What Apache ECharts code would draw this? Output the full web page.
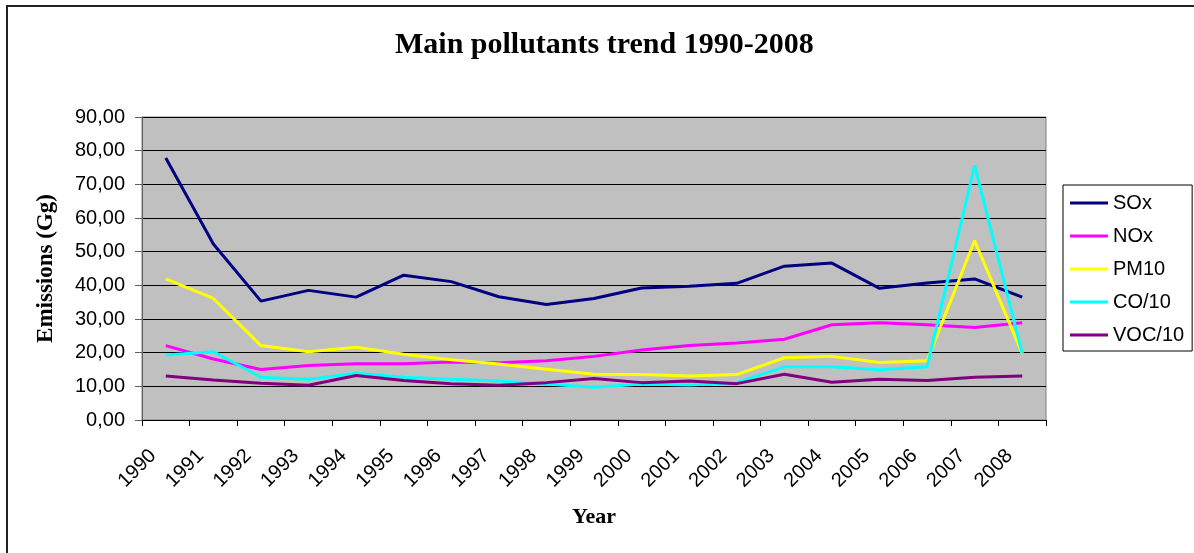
<!DOCTYPE html>
<html>
<head>
<meta charset="utf-8">
<script src="https://cdn.jsdelivr.net/npm/echarts@6/dist/echarts.min.js"></script>
<style>
  html, body { margin: 0; padding: 0; background: #fff; }
  #main { width: 1194px; height: 553px; }
</style>
</head>
<body>
<div id="main"></div>
<script>
var years = ["1990", "1991", "1992", "1993", "1994", "1995", "1996", "1997", "1998", "1999",
  "2000", "2001", "2002", "2003", "2004", "2005", "2006", "2007", "2008"];
var sox = [77.8, 52.3, 35.3, 38.5, 36.5, 43.0, 41.1, 36.6, 34.3, 36.1, 39.2, 39.7, 40.6, 45.7, 46.6, 39.1, 40.7, 41.9, 36.5];
var nox = [22.1, 18.1, 15.0, 16.2, 16.7, 16.7, 17.2, 17.0, 17.6, 18.9, 20.8, 22.1, 22.9, 24.0, 28.3, 28.9, 28.3, 27.5, 28.9];
var pm10 = [41.9, 36.1, 22.1, 20.3, 21.6, 19.5, 17.9, 16.6, 15.1, 13.6, 13.5, 13.1, 13.5, 18.5, 18.9, 17.1, 17.6, 53.3, 19.8];
var co10 = [19.3, 20.3, 12.7, 12.1, 13.9, 12.7, 12.1, 11.6, 10.7, 9.7, 10.7, 10.4, 11.1, 15.8, 15.8, 14.9, 15.8, 75.6, 19.8];
var voc10 = [13.1, 11.9, 10.9, 10.3, 13.2, 11.7, 10.8, 10.3, 11.1, 12.3, 11.1, 11.6, 10.8, 13.6, 11.2, 12.1, 11.7, 12.7, 13.1];

var seriesNames = ["SOx", "NOx", "PM10", "CO/10", "VOC/10"];
var seriesData = [sox, nox, pm10, co10, voc10];
var colors = ["#000080", "#FF00FF", "#FFFF00", "#00FFFF", "#800080"];

var sans = "'Liberation Sans', Arial, sans-serif";
var serif = "'Liberation Serif', 'Times New Roman', serif";

var myChart = echarts.init(document.getElementById("main"));

myChart.setOption({
  animation: false,
  backgroundColor: "#fff",
  color: colors,
  title: {
    text: "Main pollutants trend 1990-2008",
    left: 390,
    top: 25,
    textStyle: {
      fontFamily: serif,
      fontWeight: "bold",
      fontSize: 30,
      color: "#000",
    },
  },
  graphic: [
    {
      type: "rect",
      shape: {x: 7, y: 6, width: 1300, height: 700},
      style: {fill: null, stroke: "#222", lineWidth: 2},
      silent: true,
    },
  ],
  legend: {
    orient: "vertical",
    left: 1063,
    top: 185,
    data: seriesNames,
    icon: "rect",
    itemWidth: 38,
    itemHeight: 3,
    itemGap: 13,
    padding: [8, 8, 6, 7],
    borderColor: "#000",
    borderWidth: 1,
    backgroundColor: "#fff",
    textStyle: {
      fontFamily: sans,
      fontSize: 20,
      lineHeight: 20,
      color: "#000",
    },
  },
  grid: {
    left: 142,
    right: 148,
    top: 117,
    bottom: 133,
    show: true,
    backgroundColor: "#C0C0C0",
    borderColor: "#808080",
    borderWidth: 1,
  },
  xAxis: {
    type: "category",
    data: years,
    boundaryGap: true,
    name: "Year",
    nameLocation: "middle",
    nameGap: 86,
    nameTextStyle: {
      fontFamily: serif,
      fontWeight: "bold",
      fontSize: 22,
      color: "#000",
    },
    axisLine: {lineStyle: {color: "#000", width: 1}},
    axisTick: {show: true, length: 6, lineStyle: {color: "#000"}},
    axisLabel: {
      interval: 0,
      rotate: 45,
      margin: 20,
      padding: [0, 18, 0, 0],
      fontFamily: sans,
      fontSize: 20,
      color: "#000",
    },
    splitLine: {show: false},
  },
  yAxis: {
    type: "value",
    min: 0,
    max: 90,
    interval: 10,
    name: "Emissions (Gg)",
    nameLocation: "middle",
    nameGap: 84,
    nameTextStyle: {
      fontFamily: serif,
      fontWeight: "bold",
      fontSize: 23,
      color: "#000",
    },
    axisLine: {show: true, lineStyle: {color: "#606060", width: 1}},
    axisTick: {show: true, length: 7, lineStyle: {color: "#606060"}},
    axisLabel: {
      margin: 17,
      fontFamily: sans,
      fontSize: 20,
      color: "#000",
      formatter: function (v) {
        return v.toFixed(2).replace(".", ",");
      },
    },
    splitLine: {show: true, lineStyle: {color: "#000", width: 1}},
  },
  series: seriesNames.map(function (name, i) {
    return {
      name: name,
      type: "line",
      data: seriesData[i],
      symbol: "none",
      lineStyle: {width: 3, color: colors[i]},
      itemStyle: {color: colors[i]},
    };
  }),
});
</script>
</body>
</html>
